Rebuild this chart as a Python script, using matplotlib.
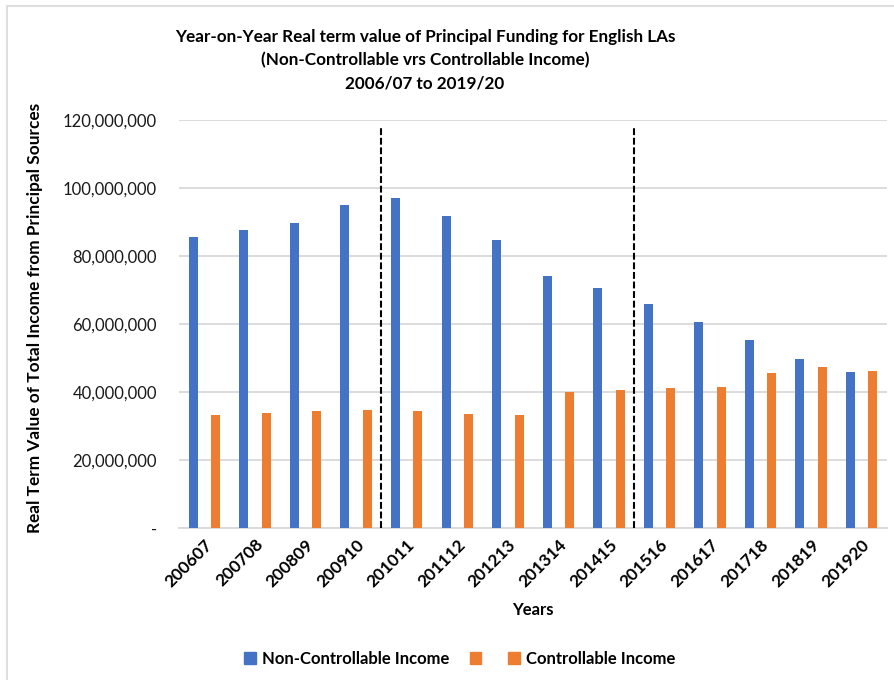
import numpy as np
import matplotlib.pyplot as plt
from matplotlib.patches import Patch, Rectangle
from matplotlib.ticker import FuncFormatter

plt.rcParams['font.family'] = ['Lato', 'DejaVu Sans']

years = ['200607', '200708', '200809', '200910', '201011', '201112', '201213',
         '201314', '201415', '201516', '201617', '201718', '201819', '201920']

# real term values (GBP)
non_controllable = [85.5e6, 87.6e6, 89.6e6, 94.9e6, 97.2e6, 91.7e6, 84.8e6,
                    74.1e6, 70.5e6, 65.8e6, 60.5e6, 55.4e6, 49.7e6, 46.0e6]
controllable = [33.3e6, 33.8e6, 34.3e6, 34.7e6, 34.4e6, 33.5e6, 33.1e6,
                40.0e6, 40.5e6, 41.2e6, 41.4e6, 45.5e6, 47.5e6, 46.3e6]

# period breaks between 2009/10 | 2010/11 and 2014/15 | 2015/16
breaks = [3.5, 8.5]

blue = '#4472C4'
orange = '#ED7D31'
grid = '#D9D9D9'

fig = plt.figure(figsize=(8.95, 6.8), dpi=100)
ax = fig.add_axes([179.2 / 895, 1 - 528 / 680, (887 - 179.2) / 895, 408 / 680])

x = np.arange(len(years))
w = 0.178
off = 0.2215
ax.bar(x - off, non_controllable, width=w, color=blue, zorder=3)
ax.bar(x + off, controllable, width=w, color=orange, zorder=3)

for b in breaks:
    ax.axvline(b, ymin=0, ymax=0.983, color='black', lw=1.5, ls=(0, (3.3, 1.3)), zorder=4)

ax.set_xlim(-0.5, len(years) - 0.5)
ax.set_ylim(0, 120e6)
ax.set_yticks(np.arange(0, 120e6 + 1, 20e6))
ax.yaxis.set_major_formatter(FuncFormatter(lambda v, p: '-' if v == 0 else f'{v:,.0f}'))
ax.grid(axis='y', color=grid, lw=1.3, zorder=0)
ax.set_axisbelow(True)

for s in ['top', 'right', 'left']:
    ax.spines[s].set_visible(False)
ax.spines['bottom'].set_color(grid)
ax.spines['bottom'].set_linewidth(1.3)

ax.tick_params(axis='y', length=0, pad=16, labelsize=12, labelcolor='#1a1a1a')
ax.tick_params(axis='x', length=0, pad=6)
ax.set_xticks(x)
ax.set_xticklabels(years, rotation=45, ha='right', rotation_mode='anchor',
                   fontsize=12.3, fontweight='bold')

fig.text(35 / 895, 1 - 318 / 680, 'Real Term Value of Total Income from Principal Sources',
         rotation=90, ha='center', va='center', fontsize=12.4, fontweight='bold')
fig.text(533 / 895, 1 - 610 / 680, 'Years', ha='center', va='center',
         fontsize=12, fontweight='bold')

title = ('Year-on-Year Real term value of Principal Funding for English LAs\n'
         '(Non-Controllable vrs Controllable Income)\n'
         '2006/07 to 2019/20')
fig.text(425 / 895, 1 - 60 / 680, title, ha='center', va='center',
         fontsize=12.3, fontweight='bold', linespacing=1.55)

handles = [Patch(color=blue), Patch(color=orange), Patch(color=orange)]
labels = ['Non-Controllable Income', '', 'Controllable Income']
leg = fig.legend(handles, labels, loc='center', bbox_to_anchor=(460 / 895, 1 - 659 / 680),
                 ncol=3, frameon=False, handlelength=0.7, handleheight=0.7,
                 handletextpad=0.4, columnspacing=1.2,
                 prop={'size': 12, 'weight': 'bold'})

# chart border
fig.add_artist(Rectangle((7 / 895, -0.1), 1.2, 1.1 - 6 / 680, transform=fig.transFigure,
                         fill=False, edgecolor=grid, lw=1.2))

fig.savefig('out.png', dpi=100)
